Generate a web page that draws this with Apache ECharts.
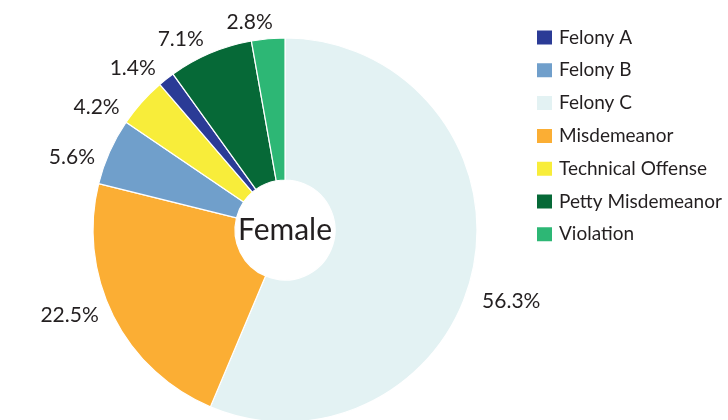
<!DOCTYPE html>
<html>
<head>
<meta charset="utf-8">
<script src="https://cdn.jsdelivr.net/npm/echarts@6/dist/echarts.min.js"></script>
<style>
  html, body { margin: 0; padding: 0; background: #fff; }
  #main { width: 728px; height: 420px; }
</style>
</head>
<body>
<div id="main"></div>
<script>
// slice order as drawn, clockwise from 12 o'clock
const categories = ['Felony C', 'Misdemeanor', 'Felony B', 'Technical Offense', 'Felony A', 'Petty Misdemeanor', 'Violation'];
const values = [56.3, 22.5, 5.6, 4.2, 1.4, 7.1, 2.8];
const legendOrder = ['Felony A', 'Felony B', 'Felony C', 'Misdemeanor', 'Technical Offense', 'Petty Misdemeanor', 'Violation'];
const centerText = 'Female';

const colors = {
    'Felony A': '#2b3b96',
    'Felony B': '#709fcb',
    'Felony C': '#e3f2f3',
    'Misdemeanor': '#fbae34',
    'Technical Offense': '#f8ed3a',
    'Petty Misdemeanor': '#066937',
    'Violation': '#2db775'
};

// small nudges so the labels sit where the original put them
const labelNudge = [[-6, 32], [0, -2], [0, 7], [-8, 8], [3, -8], [6, -10], [16, -13]];

const FONT = 'Lato, "DejaVu Sans", sans-serif';

const chart = echarts.init(document.getElementById('main'), null, {renderer: 'canvas'});

chart.setOption({
    animation: false,
    legend: {
        orient: 'vertical',
        left: 530,
        top: 23,
        data: legendOrder,
        itemWidth: 17,
        itemHeight: 16,
        itemGap: 13.8,
        icon: 'rect',
        textStyle: {fontFamily: FONT, fontSize: 19, color: '#231f20', padding: [0, 0, 0, 1]}
    },
    graphic: [{
        type: 'text',
        x: 285,
        y: 230,
        style: {
            text: centerText,
            align: 'center',
            verticalAlign: 'middle',
            font: '30px ' + FONT,
            fill: '#231f20'
        }
    }],
    series: [{
        type: 'pie',
        center: [285, 230],
        radius: [50, 192],
        startAngle: 90,
        clockwise: true,
        avoidLabelOverlap: false,
        itemStyle: {borderColor: '#fff', borderWidth: 1.2},
        label: {
            show: true,
            position: 'outside',
            fontFamily: FONT,
            fontSize: 21,
            color: '#231f20',
            formatter: p => p.value.toFixed(1) + '%'
        },
        labelLine: {show: false, length: 4, length2: 6},
        labelLayout: p => ({dx: labelNudge[p.dataIndex][0], dy: labelNudge[p.dataIndex][1]}),
        emphasis: {disabled: true},
        data: categories.map((name, i) => ({
            name: name,
            value: values[i],
            itemStyle: {color: colors[name]}
        }))
    }]
});
</script>
</body>
</html>
